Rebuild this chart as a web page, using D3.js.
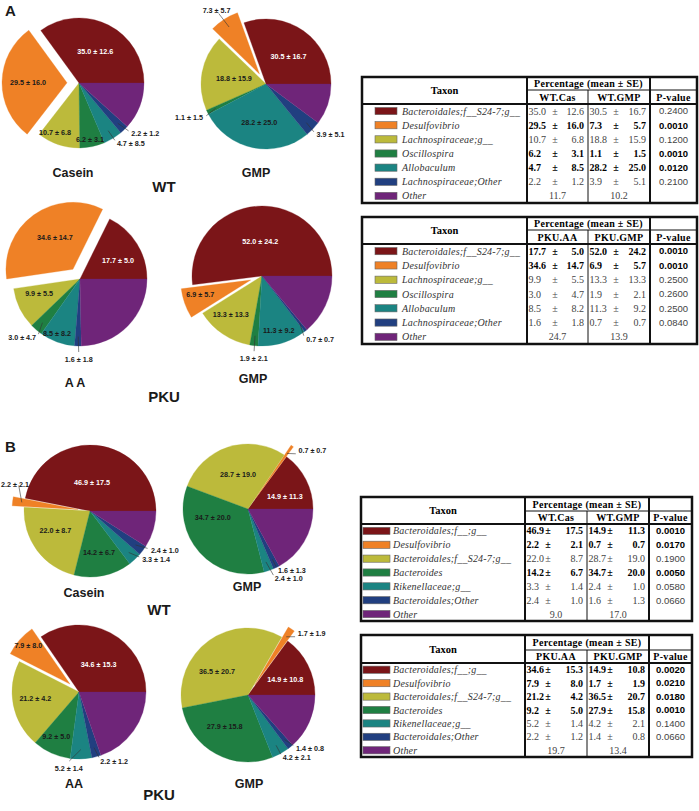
<!DOCTYPE html>
<html lang="en">
<head>
<meta charset="utf-8">
<style>
  body { margin: 0; background: #fff; }
  svg { display: block; }
</style>
</head>
<body>
<div id="chart"></div>
<script src="https://cdnjs.cloudflare.com/ajax/libs/d3/7.8.5/d3.min.js"></script>
<script>
// ---- data ----
var taxaA = ["Bacteroidales;f__S24-7;g__", "Desulfovibrio", "Lachnospiraceae;g__", "Oscillospira",
             "Allobaculum", "Lachnospiraceae;Other", "Other"];
var taxaB = ["Bacteroidales;f__;g__", "Desulfovibrio", "Bacteroidales;f__S24-7;g__", "Bacteroides",
             "Rikenellaceae;g__", "Bacteroidales;Other", "Other"];
var colors = ["#7b1518", "#ef8126", "#bcba3b", "#1f7f42", "#1b8482", "#213f80", "#6f2579"];

// panel A
var wtCasMeanA = [35.0, 29.5, 10.7, 6.2, 4.7, 2.2, 11.7];
var wtCasSeA   = [12.6, 16.0, 6.8, 3.1, 8.5, 1.2, null];
var wtGmpMeanA = [30.5, 7.3, 18.8, 1.1, 28.2, 3.9, 10.2];
var wtGmpSeA   = [16.7, 5.7, 15.9, 1.5, 25.0, 5.1, null];
var pWtA       = [0.2400, 0.0010, 0.1200, 0.0010, 0.0120, 0.2100, null];

var pkuAaMeanA  = [17.7, 34.6, 9.9, 3.0, 8.5, 1.6, 24.7];
var pkuAaSeA    = [5.0, 14.7, 5.5, 4.7, 8.2, 1.8, null];
var pkuGmpMeanA = [52.0, 6.9, 13.3, 1.9, 11.3, 0.7, 13.9];
var pkuGmpSeA   = [24.2, 5.7, 13.3, 2.1, 9.2, 0.7, null];
var pPkuA       = [0.0010, 0.0010, 0.2500, 0.2600, 0.2500, 0.0840, null];

// panel B
var wtCasMeanB = [46.9, 2.2, 22.0, 14.2, 3.3, 2.4, 9.0];
var wtCasSeB   = [17.5, 2.1, 8.7, 6.7, 1.4, 1.0, null];
var wtGmpMeanB = [14.9, 0.7, 28.7, 34.7, 2.4, 1.6, 17.0];
var wtGmpSeB   = [11.3, 0.7, 19.0, 20.0, 1.0, 1.3, null];
var pWtB       = [0.0010, 0.0170, 0.1900, 0.0050, 0.0580, 0.0660, null];

var pkuAaMeanB  = [34.6, 7.9, 21.2, 9.2, 5.2, 2.2, 19.7];
var pkuAaSeB    = [15.3, 8.0, 4.2, 5.0, 1.4, 1.2, null];
var pkuGmpMeanB = [14.9, 1.7, 36.5, 27.9, 4.2, 1.4, 13.4];
var pkuGmpSeB   = [10.8, 1.9, 20.7, 15.8, 2.1, 0.8, null];
var pPkuB       = [0.0020, 0.0210, 0.0180, 0.0010, 0.1400, 0.0660, null];

// ---- layout ----
var W = 699, H = 811;
var SANS = "'Liberation Sans', Arial, sans-serif";
var SERIF = "'Liberation Serif', 'Times New Roman', serif";
var f1 = d3.format(".1f"), f4 = d3.format(".4f");

var svg = d3.select("#chart").append("svg").attr("width", W).attr("height", H);

// label placement per slice: [radius factor, angle override (deg, ccw from 3 o'clock), outside?, anchor]
var labWtCasA  = [[0.55, null], [0.6, 179], [0.84, 244], [0.88, 281], [1.1, 302, 1], [1.12, 316, 1], null];
var labWtGmpA  = [[0.55, 51], [1.18, 124, 1, "middle"], [0.5, 171], [1.1, 208, 1], [0.6, 260], [1.1, 315, 1], null];
var labPkuAaA  = [[0.63, 26], [0.54, 120], [0.65, 200], [1.09, 233, 1], [0.88, 247], [1.15, 269, 1], null];
var labPkuGmpA = [[0.5, 93], [0.75, 196], [0.71, 231], [1.14, 264, 1], [0.82, 287], [1.1, 305, 1], null];
var labWtCasB  = [[0.43, 86], [1.03, 158, 1, "middle"], [0.6, 209], [0.65, 282], [1.08, 317, 1], [1.1, 327, 1], null];
var labWtGmpB  = [[0.6, 19], [1.0, 48, 1], [0.56, 106], [0.56, 194], [1.15, 291, 1], [1.05, 296, 1], null];
var labPkuAaB  = [[0.51, 55], [0.85, 137], [0.66, 189], [0.75, 243], [1.1, 262, 1, "middle"], [1.08, 287, 1], null];
var labPkuGmpB = [[0.6, 22], [1.0, 50, 1], [0.58, 143], [0.58, 233], [1.07, 299, 1], [1.07, 312, 1], null];

var pies = [
  {mean: wtCasMeanA,  se: wtCasSeA,  cx: 79,  cy: 83,  r: 65, lab: labWtCasA},
  {mean: wtGmpMeanA,  se: wtGmpSeA,  cx: 266, cy: 84,  r: 65, lab: labWtGmpA},
  {mean: pkuAaMeanA,  se: pkuAaSeA,  cx: 80,  cy: 279, r: 67, lab: labPkuAaA},
  {mean: pkuGmpMeanA, se: pkuGmpSeA, cx: 262, cy: 276, r: 70, lab: labPkuGmpA},
  {mean: wtCasMeanB,  se: wtCasSeB,  cx: 90,  cy: 511, r: 66, lab: labWtCasB},
  {mean: wtGmpMeanB,  se: wtGmpSeB,  cx: 248, cy: 509, r: 65, lab: labWtGmpB},
  {mean: pkuAaMeanB,  se: pkuAaSeB,  cx: 79,  cy: 692, r: 67, lab: labPkuAaB},
  {mean: pkuGmpMeanB, se: pkuGmpSeB, cx: 248, cy: 695, r: 67, lab: labPkuGmpB}
];

// slices go counter-clockwise starting at 3 o'clock
var pie = d3.pie().sort(null).startAngle(Math.PI / 2).endAngle(Math.PI / 2 - 2 * Math.PI);
var explode = 12;

pies.forEach(function(p) {
  var arc = d3.arc().innerRadius(0).outerRadius(p.r);
  var g = svg.append("g").attr("transform", "translate(" + p.cx + "," + p.cy + ")");
  var arcs = pie(p.mean);

  arcs.forEach(function(d, i) {
    var mid = Math.PI / 2 - (d.startAngle + d.endAngle) / 2;
    var off = i === 1 ? explode : 0;
    var ox = off * Math.cos(mid), oy = -off * Math.sin(mid);

    g.append("path")
      .attr("d", arc(d))
      .attr("transform", "translate(" + ox + "," + oy + ")")
      .attr("fill", colors[i])
      .attr("stroke", colors[i])
      .attr("stroke-width", 0.3);
  });

  arcs.forEach(function(d, i) {
    var s = p.lab[i];
    if (!s) return;
    var mid = Math.PI / 2 - (d.startAngle + d.endAngle) / 2;
    var off = i === 1 ? explode : 0;
    var ox = off * Math.cos(mid), oy = -off * Math.sin(mid);
    var a = s[1] != null ? s[1] * Math.PI / 180 : mid;
    var lx = ox + s[0] * p.r * Math.cos(a), ly = oy - s[0] * p.r * Math.sin(a);
    var anchor = "middle", dy = "0.35em";

    if (s[2]) {
      var c = Math.cos(a);
      anchor = s[3] || (c > 0.2 ? "start" : (c < -0.2 ? "end" : "middle"));
      if (anchor === "middle" && Math.sin(a) < -0.5) dy = "0.8em";
      var k2 = s[0] - 0.06;
      g.append("line")
        .attr("x1", ox + 0.86 * p.r * Math.cos(mid)).attr("y1", oy - 0.86 * p.r * Math.sin(mid))
        .attr("x2", ox + k2 * p.r * Math.cos(a)).attr("y2", oy - k2 * p.r * Math.sin(a))
        .attr("stroke", "#333").attr("stroke-width", 0.6);
    }

    g.append("text")
      .attr("x", lx).attr("y", ly).attr("dy", dy)
      .attr("text-anchor", anchor)
      .attr("font-family", SANS).attr("font-size", 7.2).attr("font-weight", "bold")
      .attr("fill", i === 0 && !s[2] ? "#fff" : "#1a1a1a")
      .text(f1(p.mean[i]) + " \u00b1 " + f1(p.se[i]));
  });
});

// pie captions
var captions = [
  ["A", 5, 16, 15, "start"],
  ["Casein", 73, 177, 12.5, "middle"], ["GMP", 256, 177, 12.5, "middle"], ["WT", 164, 192, 15, "middle"],
  ["A A", 75, 387, 12.5, "middle"], ["GMP", 253, 383, 12.5, "middle"], ["PKU", 164, 402, 15, "middle"],
  ["B", 5, 452, 15, "start"],
  ["Casein", 84, 597, 12.5, "middle"], ["GMP", 247, 591, 12.5, "middle"], ["WT", 159, 615, 15, "middle"],
  ["AA", 74, 788, 12.5, "middle"], ["GMP", 249, 788, 12.5, "middle"], ["PKU", 159, 800, 15, "middle"]
];
svg.selectAll("text.cap").data(captions).enter().append("text")
  .attr("class", "cap")
  .attr("x", function(d) { return d[1]; })
  .attr("y", function(d) { return d[2]; })
  .attr("font-size", function(d) { return d[3]; })
  .attr("text-anchor", function(d) { return d[4]; })
  .attr("font-family", SANS).attr("font-weight", "bold").attr("fill", "#1a1a1a")
  .text(function(d) { return d[0]; });

// ---- tables ----
var tables = [
  {taxa: taxaA, cols: ["WT.Cas", "WT.GMP"], m1: wtCasMeanA, s1: wtCasSeA, m2: wtGmpMeanA, s2: wtGmpSeA, p: pWtA,
   x0: 362, x1: 697, y0: 77, yh1: 90, yh2: 104, y1: 203, cT: 527, cM: 588, cP: 650, swX: 375, swW: 22, txX: 402, pm: 28},
  {taxa: taxaA, cols: ["PKU.AA", "PKU.GMP"], m1: pkuAaMeanA, s1: pkuAaSeA, m2: pkuGmpMeanA, s2: pkuGmpSeA, p: pPkuA,
   x0: 362, x1: 697, y0: 217, yh1: 230, yh2: 244, y1: 344, cT: 527, cM: 588, cP: 650, swX: 375, swW: 22, txX: 402, pm: 28},
  {taxa: taxaB, cols: ["WT.Cas", "WT.GMP"], m1: wtCasMeanB, s1: wtCasSeB, m2: wtGmpMeanB, s2: wtGmpSeB, p: pWtB,
   x0: 361, x1: 692, y0: 497, yh1: 511, yh2: 524, y1: 621, cT: 525, cM: 587, cP: 649, swX: 363, swW: 27, txX: 393, pm: 23},
  {taxa: taxaB, cols: ["PKU.AA", "PKU.GMP"], m1: pkuAaMeanB, s1: pkuAaSeB, m2: pkuGmpMeanB, s2: pkuGmpSeB, p: pPkuB,
   x0: 361, x1: 692, y0: 635, yh1: 650, yh2: 663, y1: 757, cT: 525, cM: 587, cP: 649, swX: 363, swW: 27, txX: 393, pm: 23}
];

function drawTable(t) {
  var g = svg.append("g");
  var y = d3.scaleBand().domain(d3.range(t.taxa.length)).range([t.yh2, t.y1]);
  var yc = function(i) { return y(i) + y.bandwidth() / 2; };
  var sig = function(i) { return t.p[i] != null && t.p[i] < 0.05; };

  // header
  g.append("text").attr("x", (t.x0 + t.cT) / 2).attr("y", (t.y0 + t.yh2) / 2).attr("dy", "0.35em")
    .attr("text-anchor", "middle").attr("font-family", SERIF).attr("font-weight", "bold").attr("font-size", 10.5)
    .text("Taxon");
  g.append("text").attr("x", (t.cT + t.cP) / 2).attr("y", (t.y0 + t.yh1) / 2).attr("dy", "0.38em")
    .attr("text-anchor", "middle").attr("font-family", SERIF).attr("font-weight", "bold").attr("font-size", 10)
    .attr("letter-spacing", 0.3)
    .text("Percentage (mean \u00b1 SE)");
  [[t.cols[0], (t.cT + t.cM) / 2], [t.cols[1], (t.cM + t.cP) / 2], ["P-value", (t.cP + t.x1) / 2]].forEach(function(h) {
    g.append("text").attr("x", h[1]).attr("y", (t.yh1 + t.yh2) / 2).attr("dy", "0.38em")
      .attr("text-anchor", "middle").attr("font-family", SERIF).attr("font-weight", "bold").attr("font-size", 10)
      .attr("letter-spacing", 0.3)
      .text(h[0]);
  });

  // legend swatches + taxon names
  g.selectAll("rect.sw").data(t.taxa).enter().append("rect")
    .attr("x", t.swX).attr("y", function(d, i) { return yc(i) - 3.6; })
    .attr("width", t.swW).attr("height", 7.2)
    .attr("fill", function(d, i) { return colors[i]; })
    .attr("stroke", "#666").attr("stroke-width", 0.6);
  g.selectAll("text.tx").data(t.taxa).enter().append("text")
    .attr("x", t.txX).attr("y", function(d, i) { return yc(i); }).attr("dy", "0.35em")
    .attr("font-family", SERIF).attr("font-style", "italic").attr("font-size", 10).attr("fill", "#333")
    .attr("letter-spacing", 0.2)
    .text(function(d) { return d; });

  // values
  [[t.m1, t.s1, t.cT, t.cM], [t.m2, t.s2, t.cM, t.cP]].forEach(function(c) {
    c[0].forEach(function(m, i) {
      var bold = sig(i);
      var txt = function(x, anchor, s) {
        g.append("text").attr("x", x).attr("y", yc(i)).attr("dy", "0.35em").attr("text-anchor", anchor)
          .attr("font-family", SERIF).attr("font-size", 10)
          .attr("font-weight", bold ? "bold" : "normal").attr("fill", bold ? "#000" : "#444")
          .text(s);
      };
      if (c[1][i] == null) {
        txt((c[2] + c[3]) / 2, "middle", f1(m));
      } else {
        txt(c[2] + 1.5, "start", f1(m));
        txt(c[2] + t.pm, "middle", "\u00b1");
        txt(c[3] - 4, "end", f1(c[1][i]));
      }
    });
  });
  g.selectAll("text.pv").data(t.p).enter().append("text")
    .attr("x", (t.cP + t.x1) / 2).attr("y", function(d, i) { return yc(i); }).attr("dy", "0.35em")
    .attr("text-anchor", "middle").attr("font-family", SANS).attr("font-size", 9.5)
    .attr("font-weight", function(d, i) { return sig(i) ? "bold" : "normal"; })
    .attr("fill", function(d, i) { return sig(i) ? "#000" : "#444"; })
    .text(function(d) { return d == null ? "" : f4(d); });

  // rules
  var line = function(x1, y1, x2, y2, w) {
    g.append("line").attr("x1", x1).attr("y1", y1).attr("x2", x2).attr("y2", y2)
      .attr("stroke", "#111").attr("stroke-width", w);
  };
  line(t.cT, t.yh1, t.x1, t.yh1, 1);
  line(t.x0, t.yh2, t.x1, t.yh2, 2);
  line(t.cT, t.y0, t.cT, t.y1, 2);
  line(t.cP, t.y0, t.cP, t.y1, 2);
  line(t.cM, t.yh1, t.cM, t.y1, 1);
  g.append("rect").attr("x", t.x0).attr("y", t.y0).attr("width", t.x1 - t.x0).attr("height", t.y1 - t.y0)
    .attr("fill", "none").attr("stroke", "#111").attr("stroke-width", 2.5);
}

tables.forEach(drawTable);
</script>
</body>
</html>
